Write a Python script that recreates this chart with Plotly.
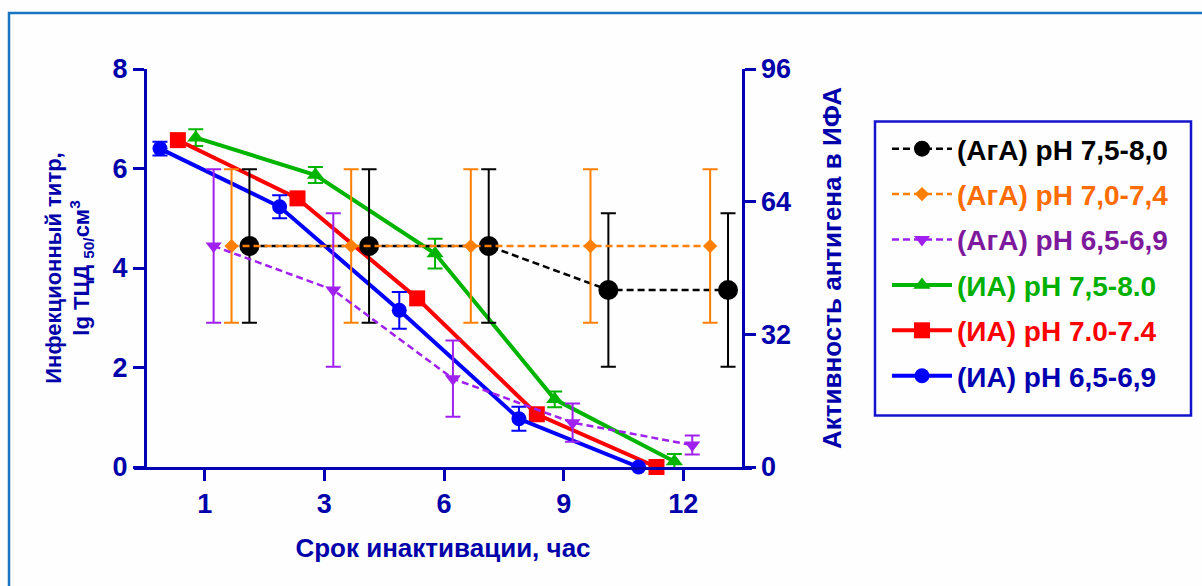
import plotly.graph_objects as go

# Inactivation time points (h)
hours = ["1", "3", "6", "9", "12"]

# Antigen activity in ELISA (right axis), mean and SD
aga_75_80 = [53.3, 53.3, 53.3, 42.7, 42.7]
aga_75_80_sd = [18.5, 18.5, 18.5, 18.5, 18.5]
aga_70_74 = [53.3, 53.3, 53.3, 53.3, 53.3]
aga_70_74_sd = [18.5, 18.5, 18.5, 18.5, 18.5]
aga_65_69 = [53.3, 42.7, 21.3, 10.7, 5.3]
aga_65_69_sd = [18.5, 18.5, 9.2, 4.6, 2.3]

# Infectious titre, lg TCD50/cm3 (left axis), mean and SD
ia_75_80 = [6.62, 5.87, 4.29, 1.36, 0.11]
ia_75_80_sd = [0.17, 0.16, 0.30, 0.16, 0.15]
ia_70_74 = [6.57, 5.40, 3.39, 1.06, 0.0]
ia_65_69 = [6.40, 5.23, 3.15, 0.97, 0.0]
ia_65_69_sd = [0.14, 0.23, 0.37, 0.24, 0.0]

W, H = 1202, 586
L, R, T, B = 134, 752, 69, 467          # plot area in px
FONT = "Liberation Sans, Arial, sans-serif"
AXC = "#0000b4"
TXC = "#0000aa"


def px(x):
    return (x - L) / (R - L)


def py(y):
    return (B - y) / (B - T)


STEP = 0.1495  # dodge between series within one time point
base = list(range(len(hours)))


def xs(k):
    return [b + (k - 2.5) * STEP for b in base]


def err(sd, color):
    return dict(type="data", array=sd, visible=True, color=color,
                thickness=2, width=7.5)


def lab(text, color):
    return f'<span style="color:{color}">{text}</span>'


fig = go.Figure()

# --- AgA series (right axis, dashed) ---
fig.add_trace(go.Scatter(
    x=xs(5), y=aga_75_80, yaxis="y2", mode="lines+markers",
    name=lab("(АгА) pH 7,5-8,0", "#000000"), legendgroup="a1",
    line=dict(color="#000000", width=2.5, dash="7px,4px"),
    marker=dict(symbol="circle", size=20, color="#000000"),
    error_y=err(aga_75_80_sd, "#000000"), cliponaxis=False))
fig.add_trace(go.Scatter(
    x=xs(4), y=aga_70_74, yaxis="y2", mode="lines+markers",
    name=lab("(АгА) pH 7,0-7,4", "#ff6c00"), legendgroup="a2",
    line=dict(color="#ff8000", width=2.5, dash="7px,4px"),
    marker=dict(symbol="diamond", size=11, color="#ff8000"),
    error_y=err(aga_70_74_sd, "#ff8000"), cliponaxis=False))
fig.add_trace(go.Scatter(
    x=xs(3), y=aga_65_69, yaxis="y2", mode="lines+markers",
    name=lab("(АгА) pH 6,5-6,9", "#7d1a9c"), legendgroup="a3",
    line=dict(color="#a020f0", width=2.5, dash="7px,4px"),
    marker=dict(symbol="triangle-down", size=14, color="#a020f0"),
    error_y=err(aga_65_69_sd, "#a020f0"), cliponaxis=False))

# --- IA series (left axis, solid) ---
fig.add_trace(go.Scatter(
    x=xs(2), y=ia_75_80, mode="lines+markers",
    name=lab("(ИА) pH 7,5-8.0", "#00b000"), legendgroup="i1",
    line=dict(color="#00b400", width=4),
    marker=dict(symbol="triangle-up", size=15, color="#00b400"),
    error_y=err(ia_75_80_sd, "#00b400"), cliponaxis=False))
fig.add_trace(go.Scatter(
    x=xs(1), y=ia_70_74, mode="lines+markers",
    name=lab("(ИА) pH 7.0-7.4", "#ff0000"), legendgroup="i2",
    line=dict(color="#ff0000", width=4),
    marker=dict(symbol="square", size=16, color="#ff0000"),
    cliponaxis=False))
fig.add_trace(go.Scatter(
    x=xs(0), y=ia_65_69, mode="lines+markers",
    name=lab("(ИА) pH 6,5-6,9", "#0000b0"), legendgroup="i3",
    line=dict(color="#0000ff", width=4),
    marker=dict(symbol="circle", size=15, color="#0000ff"),
    error_y=err(ia_65_69_sd, "#0000ff"), cliponaxis=False))

tickfont = dict(family=FONT, size=27, color=TXC, weight="bold")


def tfont(size):
    return dict(family=FONT, size=size, color=TXC, weight="bold")


fig.update_layout(
    width=W, height=H,
    margin=dict(l=L, r=W - R, t=T, b=H - B, autoexpand=False),
    paper_bgcolor="#fefefe", plot_bgcolor="rgba(0,0,0,0)",
    font=dict(family=FONT),
    xaxis=dict(
        range=[(L - 204.7) / 119.65, (R - 204.7) / 119.65],
        tickmode="array", tickvals=base, ticktext=hours,
        showgrid=False, zeroline=False,
        showline=True, linecolor=AXC, linewidth=3,
        ticks="outside", ticklen=11, tickwidth=3, tickcolor=AXC,
        tickfont=tickfont,
        title=dict(text="Срок инактивации, час", font=tfont(26), standoff=21),
    ),
    yaxis=dict(
        range=[0, 8], tickvals=[0, 2, 4, 6, 8],
        anchor="free", position=px(145),
        showgrid=False, zeroline=False,
        showline=True, linecolor=AXC, linewidth=3,
        ticks="outside", ticklen=11, tickwidth=3, tickcolor=AXC,
        tickfont=tickfont,
        title=dict(text="Инфекционный титр,<br>lg ТЦД <sub>50/</sub>см<sup>3</sup>",
                   font=tfont(22), standoff=15),
    ),
    yaxis2=dict(
        range=[0, 96], tickvals=[0, 32, 64, 96],
        overlaying="y", side="right", anchor="free", position=px(742.5),
        showgrid=False, zeroline=False,
        showline=True, linecolor=AXC, linewidth=3,
        ticks="outside", ticklen=11, tickwidth=3, tickcolor=AXC,
        tickfont=tickfont,
        title=dict(text="Активность антигена в ИФА", font=tfont(26), standoff=32),
    ),
    legend=dict(
        x=px(887), y=py(124), xanchor="left", yanchor="top",
        bgcolor="rgba(0,0,0,0)", borderwidth=0,
        font=dict(family=FONT, size=28, weight="bold"),
        tracegroupgap=6, itemwidth=60, traceorder="grouped",
    ),
    showlegend=True,
    shapes=[
        # outer frame
        dict(type="rect", xref="paper", yref="paper",
             x0=px(9), x1=px(1230), y0=py(13), y1=py(620),
             line=dict(color="#1a74c4", width=2.5), layer="below"),
        # legend box
        dict(type="rect", xref="paper", yref="paper",
             x0=px(875), x1=px(1191), y0=py(121.5), y1=py(415.5),
             line=dict(color="#1414cc", width=2.5), layer="below"),
    ],
)

fig.write_html("out.html")
